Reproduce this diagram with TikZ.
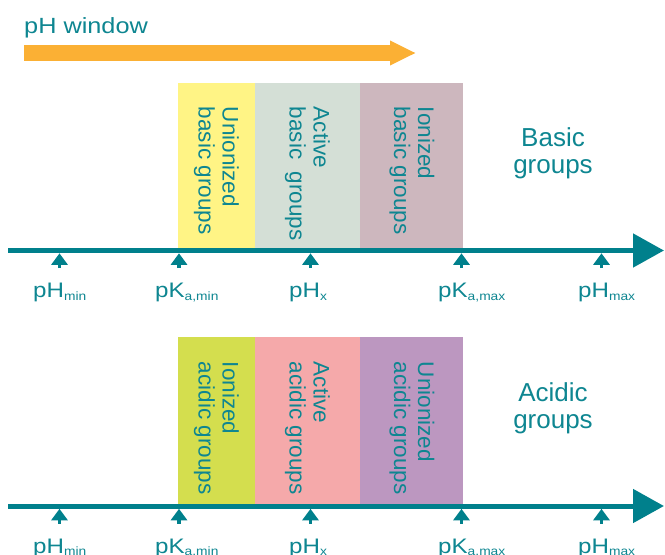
\documentclass[tikz,border=0pt]{standalone}
\usepackage{fontspec}
\setmainfont{Liberation Sans}
\newfontfamily\widefont[FakeStretch=1.15]{Liberation Sans}
\usetikzlibrary{arrows.meta}
\definecolor{axiscol}{RGB}{0,128,140}
\definecolor{txtcol}{RGB}{14,134,145}
\definecolor{orangecol}{RGB}{251,176,52}
\definecolor{yellowbox}{RGB}{255,244,133}
\definecolor{greybox}{RGB}{212,223,214}
\definecolor{mauvebox}{RGB}{205,183,190}
\definecolor{limebox}{RGB}{212,222,78}
\definecolor{pinkbox}{RGB}{245,169,170}
\definecolor{purplebox}{RGB}{188,151,192}
\newcommand\lowsub[1]{\raisebox{-2.5pt}{\fontsize{12}{12}\selectfont #1}}
\begin{document}
\begin{tikzpicture}[x=1pt,y=-1pt,
  axisline/.style={draw=axiscol, line width=5pt, -{Triangle[length=31pt,width=33pt]}},
  tickarrow/.style={draw=axiscol, line width=3.5pt, -{Triangle[length=11.5pt,width=16pt]}},
  windowarrow/.style={draw=orangecol, line width=16pt, -{Triangle[length=26pt,width=23pt]}},
  bandbox/.style={draw=none, inner sep=0pt, anchor=north west, minimum height=165pt},
  rottext/.style={rotate=-90, anchor=west, align=left, inner sep=0pt, text=txtcol, font=\fontsize{22.5}{24}\selectfont},
  ticklab/.style={anchor=base west, inner sep=0pt, text=txtcol, font=\widefont\fontsize{21}{21}\selectfont},
  sidelab/.style={anchor=base, inner sep=0pt, text=txtcol, font=\fontsize{26}{27}\selectfont},
  titlelab/.style={anchor=base west, inner sep=0pt, text=txtcol, font=\widefont\fontsize{22}{22}\selectfont}
]
\useasboundingbox (0,0) rectangle (665,555);
\clip (0,0) rectangle (665,555);

% pH window
\node[titlelab] (title) at (24,33) {pH window};
\coordinate (w0) at (24,53);
\coordinate (w1) at (416,53);
\draw[windowarrow] (w0) -- (w1);

% ---------- Basic groups ----------
\node[bandbox, fill=yellowbox, minimum width=77pt] (b1) at (178,83) {};
\node[bandbox, fill=greybox, minimum width=105pt] (b2) at (255,83) {};
\node[bandbox, fill=mauvebox, minimum width=103pt] (b3) at (360,83) {};
\node[rottext] (bt1) at (216.5,106.7) {Unionized\\basic groups};
\node[rottext] (bt2) at (307.5,106.7) {Active\\basic\ \ groups};
\node[rottext] (bt3) at (412,106.7) {Ionized\\basic groups};
\node[sidelab] (bs1) at (553,146) {Basic};
\node[sidelab] (bs2) at (553,173.5) {groups};

\coordinate (ax0) at (8,250.5);
\coordinate (ax1) at (664,250.5);
\draw[axisline] (ax0) -- (ax1);

\foreach \n/\x in {1/59.5,2/179,3/310.5,4/461.5,5/601.5}{
  \coordinate (tb\n) at (\x,268);
  \coordinate (tt\n) at (\x,253.3);
  \draw[tickarrow] (tb\n) -- (tt\n);
}
\node[ticklab] (l1) at (33,297.7) {pH\lowsub{min}};
\node[ticklab] (l2) at (155,297.7) {pK\lowsub{a,min}};
\node[ticklab] (l3) at (289,297.7) {pH\lowsub{x}};
\node[ticklab] (l4) at (438,297.7) {pK\lowsub{a,max}};
\node[ticklab] (l5) at (578,297.7) {pH\lowsub{max}};

% ---------- Acidic groups ----------
\node[bandbox, fill=limebox, minimum width=77pt, minimum height=167pt] (a1) at (178,337) {};
\node[bandbox, fill=pinkbox, minimum width=105pt, minimum height=167pt] (a2) at (255,337) {};
\node[bandbox, fill=purplebox, minimum width=103pt, minimum height=167pt] (a3) at (360,337) {};
\node[rottext] (at1) at (216.5,361.7) {Ionized\\acidic groups};
\node[rottext] (at2) at (307.5,361.7) {Active\\acidic groups};
\node[rottext] (at3) at (412,361.7) {Unionized\\acidic groups};
\node[sidelab] (as1) at (553,401) {Acidic};
\node[sidelab] (as2) at (553,428.5) {groups};

\coordinate (bx0) at (8,506);
\coordinate (bx1) at (664,506);
\draw[axisline] (bx0) -- (bx1);

\foreach \n/\x in {1/59.5,2/179,3/310.5,4/461.5,5/601.5}{
  \coordinate (sb\n) at (\x,523.5);
  \coordinate (st\n) at (\x,508.8);
  \draw[tickarrow] (sb\n) -- (st\n);
}
\node[ticklab] (m1) at (33,553.2) {pH\lowsub{min}};
\node[ticklab] (m2) at (155,553.2) {pK\lowsub{a,min}};
\node[ticklab] (m3) at (289,553.2) {pH\lowsub{x}};
\node[ticklab] (m4) at (438,553.2) {pK\lowsub{a,max}};
\node[ticklab] (m5) at (578,553.2) {pH\lowsub{max}};
\end{tikzpicture}
\end{document}
